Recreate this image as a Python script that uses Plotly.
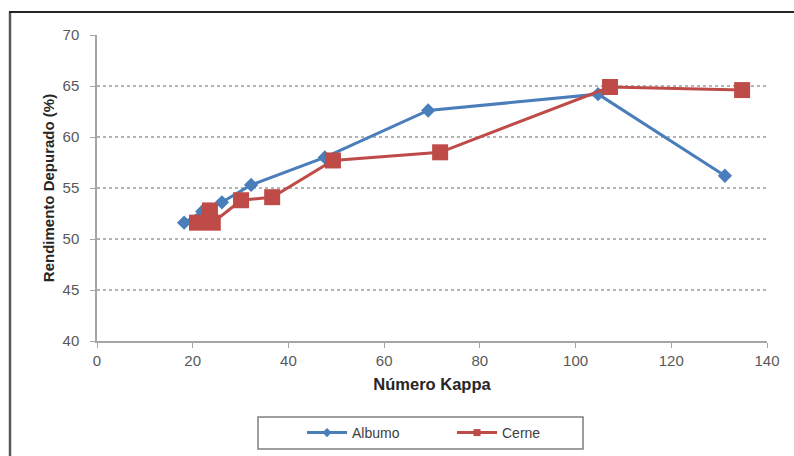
import plotly.graph_objects as go

# Número Kappa vs Rendimento Depurado for the two wood fractions
albumo_kappa = [18.2, 22.0, 26.1, 32.2, 47.6, 69.2, 104.7, 131.2]
albumo_rend = [51.6, 52.7, 53.6, 55.3, 58.0, 62.6, 64.2, 56.2]

cerne_kappa = [20.9, 23.6, 24.2, 30.1, 36.6, 49.3, 71.7, 107.2, 134.8]
cerne_rend = [51.6, 52.8, 51.6, 53.8, 54.1, 57.7, 58.5, 64.9, 64.6]

x_ticks = [0, 20, 40, 60, 80, 100, 120, 140]
y_ticks = [40, 45, 50, 55, 60, 65, 70]

BLUE = "#4A7EBB"
RED = "#BE4B48"
FONT = "Liberation Sans, Arial, sans-serif"

# plot-area geometry in pixels, used to place the frame and legend box
L, R, T, B = 97, 27, 35, 115
PW, PH = 794 - L - R, 456 - T - B


def px(xp):
    return (xp - L) / PW


def py(yp):
    return (456 - B - yp) / PH


fig = go.Figure()
fig.add_trace(go.Scatter(
    x=albumo_kappa, y=albumo_rend, name="Albumo", mode="lines+markers",
    line=dict(color=BLUE, width=3), showlegend=False,
    marker=dict(symbol="diamond", size=11, color=BLUE),
))
fig.add_trace(go.Scatter(
    x=cerne_kappa, y=cerne_rend, name="Cerne", mode="lines+markers",
    line=dict(color=RED, width=3), showlegend=False,
    marker=dict(symbol="square", size=16, color=RED),
))
# legend entries with smaller symbols
fig.add_trace(go.Scatter(
    x=[None], y=[None], name="Albumo", mode="lines+markers",
    line=dict(color=BLUE, width=3), marker=dict(symbol="diamond", size=7, color=BLUE),
))
fig.add_trace(go.Scatter(
    x=[None], y=[None], name="Cerne", mode="lines+markers",
    line=dict(color=RED, width=3), marker=dict(symbol="square", size=7, color=RED),
))

fig.update_layout(
    width=794, height=456,
    margin=dict(l=L, r=R, t=T, b=B, autoexpand=False),
    paper_bgcolor="white", plot_bgcolor="white",
    font=dict(family=FONT, size=15, color="#595959"),
    showlegend=True,
    legend=dict(
        orientation="h", x=px(302), xanchor="left", y=py(433), yanchor="middle",
        bgcolor="rgba(0,0,0,0)", borderwidth=0,
        font=dict(size=14, color="#404040"),
        itemwidth=40, entrywidth=95, entrywidthmode="pixels",
    ),
    xaxis=dict(
        range=[0, 140], tickvals=x_ticks, showgrid=False, zeroline=False,
        showline=True, linecolor="#A6A6A6", linewidth=1.5,
        ticks="outside", ticklen=5, tickcolor="#A6A6A6",
        title=dict(text="<b>Número Kappa</b>", font=dict(size=16.5, color="#262626"), standoff=11),
    ),
    yaxis=dict(
        range=[40, 70], tickvals=y_ticks, zeroline=False,
        showgrid=True, gridcolor="#B4B4B4", griddash="3px,3px", gridwidth=1.5,
        showline=True, linecolor="#A6A6A6", linewidth=1.5,
        ticks="outside", ticklen=5, tickcolor="#A6A6A6", ticklabelstandoff=8,
        title=dict(text="<b>Rendimento Depurado (%)</b>", font=dict(size=15, color="#262626"), standoff=4),
    ),
)

# legend box
fig.add_shape(type="rect", xref="paper", yref="paper",
              x0=px(258), x1=px(583), y0=py(449), y1=py(417),
              line=dict(color="#7F7F7F", width=1.5), fillcolor="rgba(0,0,0,0)")
# outer chart frame (left and top edges)
fig.add_shape(type="line", xref="paper", yref="paper",
              x0=px(10), x1=px(10), y0=py(460), y1=py(12),
              line=dict(color="#595959", width=2.5))
fig.add_shape(type="line", xref="paper", yref="paper",
              x0=px(9), x1=px(800), y0=py(12), y1=py(12),
              line=dict(color="#262626", width=2))

fig.write_html("out.html")
